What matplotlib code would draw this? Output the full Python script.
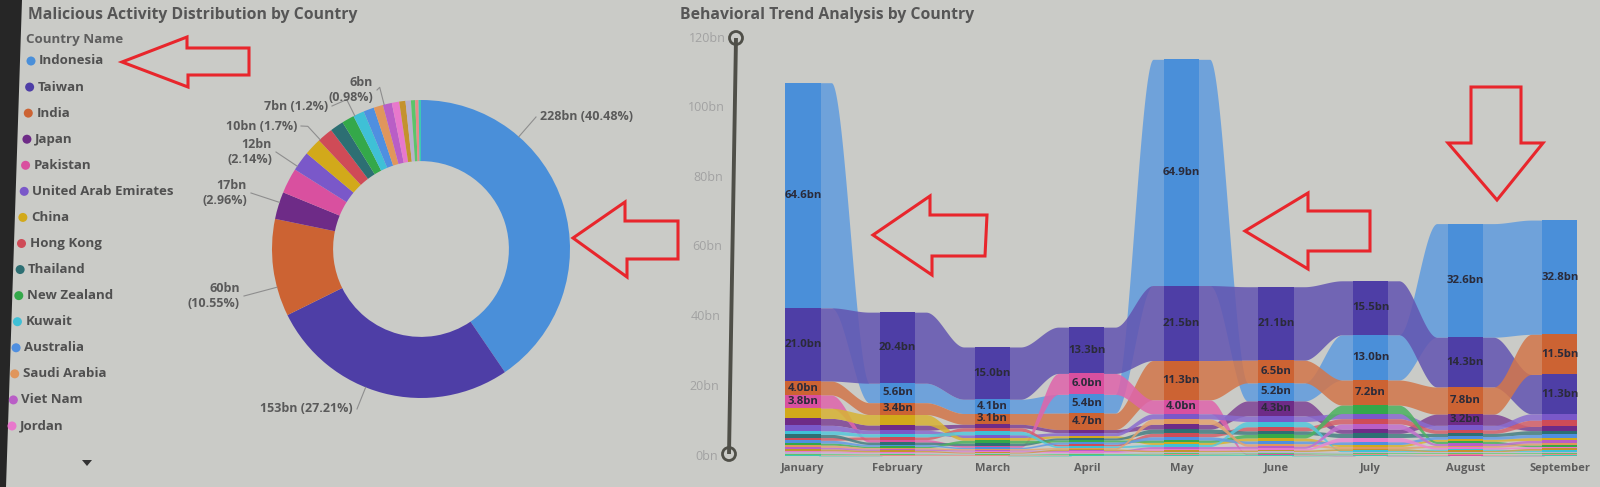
import numpy as np
import matplotlib
matplotlib.use("Agg")
import matplotlib.pyplot as plt
from matplotlib.patches import Polygon, Circle
from matplotlib.colors import to_rgb

plt.rcParams['font.family'] = ['Open Sans', 'DejaVu Sans']

# ---------------- data ----------------
countries = ['Indonesia', 'Taiwan', 'India', 'Japan', 'Pakistan', 'United Arab Emirates',
             'China', 'Hong Kong', 'Thailand', 'New Zealand', 'Kuwait', 'Australia',
             'Saudi Arabia', 'Viet Nam', 'Jordan', 'Other 1', 'Other 2', 'Other 3',
             'Other 4', 'Other 5']
months = ['January', 'February', 'March', 'April', 'May', 'June', 'July', 'August', 'September']

indonesia = [64.64, 5.6, 4.1, 5.4, 64.94, 5.2, 13.0, 32.62, 32.8]
taiwan = [21.03, 20.4, 15.0, 13.3, 21.53, 21.1, 15.5, 14.3, 11.3]
india = [4.0, 3.4, 3.1, 4.7, 11.3, 6.5, 7.2, 7.8, 11.52]
japan = [2.0, 1.5, 1.0, 0.9, 1.4, 4.3, 1.2, 3.2, 1.2]
pakistan = [3.8, 0.7, 0.5, 6.0, 4.0, 0.2, 0.1, 0.1, 0.1]
uae = [1.6, 1.0, 0.8, 0.9, 1.5, 1.6, 1.5, 1.3, 1.85]
china = [2.9, 3.0, 0.8, 0.6, 0.6, 0.9, 0.6, 0.6, 0.8]
hong_kong = [0.8, 0.8, 1.0, 0.5, 1.0, 1.2, 1.5, 1.0, 1.78]
thailand = [0.9, 0.7, 0.7, 0.6, 1.2, 1.0, 1.2, 0.9, 1.1]
new_zealand = [0.6, 0.4, 0.8, 0.6, 0.7, 1.0, 2.4, 0.6, 0.5]
kuwait = [1.0, 0.9, 1.0, 0.5, 0.6, 1.5, 0.4, 0.4, 0.46]
australia = [0.8, 0.5, 0.4, 0.6, 0.9, 0.8, 0.8, 0.8, 0.9]
saudi_arabia = [0.6, 0.4, 0.4, 0.4, 1.5, 0.7, 0.6, 0.5, 0.6]
viet_nam = [0.5, 0.4, 0.3, 0.3, 0.6, 0.6, 1.5, 0.6, 0.72]
jordan = [0.4, 0.3, 0.3, 0.3, 0.5, 0.5, 1.2, 0.5, 0.5]
other_1 = [0.5, 0.4, 0.3, 0.4, 0.41, 0.4, 0.5, 0.4, 0.5]
other_2 = [0.4, 0.3, 0.3, 0.3, 0.4, 0.4, 0.4, 0.4, 0.4]
other_3 = [0.3, 0.3, 0.2, 0.3, 0.3, 0.3, 0.3, 0.3, 0.3]
other_4 = [0.2, 0.2, 0.2, 0.2, 0.3, 0.2, 0.2, 0.3, 0.2]
other_5 = [0.2, 0.1, 0.1, 0.2, 0.2, 0.2, 0.2, 0.1, 0.2]

y_ticks = [0, 20, 40, 60, 80, 100, 120]

colors = ['#4a8fd9', '#4e3ea6', '#cc6333', '#6e2b87', '#d9509f', '#7a58c9',
          '#d2a91a', '#cf4b57', '#2d6f73', '#34a84a', '#3fc0d6', '#4f8fe0',
          '#e0965c', '#b95ec6', '#e878cc', '#c4922e', '#b8b2cc', '#5cc46a',
          '#e88a8a', '#3cc8b4']

series = [indonesia, taiwan, india, japan, pakistan, uae, china, hong_kong, thailand,
          new_zealand, kuwait, australia, saudi_arabia, viet_nam, jordan,
          other_1, other_2, other_3, other_4, other_5]
vals = np.array(series, dtype=float)
totals = vals.sum(axis=1)
grand = totals.sum()

# ---------------- figure ----------------
W, H = 1600, 487
BG = '#cacbc7'
fig = plt.figure(figsize=(W / 100, H / 100), dpi=100)
fig.patch.set_facecolor(BG)

def frac(x, y, w, h):
    return [x / W, 1 - (y + h) / H, w / W, h / H]

def lighten(c, f):
    r = np.array(to_rgb(c))
    return tuple(r + (1 - r) * f)

# ---------------- donut ----------------
cx, cy, R = 421, 249, 149
ax_d = fig.add_axes(frac(cx - R, cy - R, 2 * R, 2 * R))
ax_d.pie(totals, colors=colors, startangle=90, counterclock=False, radius=1,
         wedgeprops=dict(width=0.41, linewidth=0))
ax_d.set_xlim(-1, 1)
ax_d.set_ylim(-1, 1)
ax_d.axis('off')

# ---------------- ribbon chart ----------------
X0PX, DXPX = 803, 94.6
AX_L, AX_R, Y_TOP, Y_BASE = 760, 1590, 38, 456
ax_r = fig.add_axes(frac(AX_L, Y_TOP, AX_R - AX_L, Y_BASE - Y_TOP))
ax_r.set_xlim((AX_L - X0PX) / DXPX, (AX_R - X0PX) / DXPX)
ax_r.set_ylim(0, 120)
ax_r.patch.set_alpha(0)
for sp in ax_r.spines.values():
    sp.set_visible(False)

nS, nM = vals.shape
bottoms = np.zeros_like(vals)
tops = np.zeros_like(vals)
for m in range(nM):
    order = sorted(range(nS), key=lambda s: (vals[s, m], -s))
    acc = 0.0
    for s in order:
        bottoms[s, m] = acc
        acc += vals[s, m]
        tops[s, m] = acc

hw = 0.185
u = np.linspace(0, 1, 140)
a = 0.2
v = np.clip((u - a) / (1 - 2 * a), 0, 1)
ease = v * v * (3 - 2 * v)
for m in range(nM - 1):
    x0, x1 = m + hw - 0.02, m + 1 - hw + 0.02
    xs = x0 + (x1 - x0) * u
    for k in range(nS):
        lo = bottoms[k, m] + (bottoms[k, m + 1] - bottoms[k, m]) * ease
        hi = tops[k, m] + (tops[k, m + 1] - tops[k, m]) * ease
        ax_r.fill_between(xs, lo, hi, color=lighten(colors[k], 0.12), alpha=0.86,
                          lw=0, zorder=1)

for m in range(nM):
    for k in range(nS):
        ax_r.bar(m, vals[k, m], bottom=bottoms[k, m], width=2 * hw, color=colors[k],
                 lw=0, zorder=3, antialiased=False)
        if vals[k, m] >= 3.1:
            ax_r.text(m, bottoms[k, m] + vals[k, m] / 2, f"{vals[k, m]:.1f}bn",
                      ha='center', va='center', fontsize=8.2, fontweight='bold',
                      color='#2b2b3a', zorder=5)

ax_r.set_xticks(range(nM))
ax_r.set_xticklabels(months, fontsize=8, fontweight='bold', color='#5e5e5e')
ax_r.tick_params(axis='x', length=0, pad=5)
ax_r.set_yticks([])

# y "slider" axis labels
ytr = ax_r.get_yaxis_transform()
for t in y_ticks:
    xpx = 718 + (t / 120) * 8
    ax_r.text((xpx - AX_L) / (AX_R - AX_L), t, f"{t}bn", transform=ytr, ha='right',
              va='center', fontsize=9, color='#a2a2a2', clip_on=False)

# ---------------- overlay (pixel coordinates) ----------------
ov = fig.add_axes([0, 0, 1, 1], zorder=10)
ov.set_xlim(0, W)
ov.set_ylim(H, 0)
ov.axis('off')
ov.patch.set_alpha(0)

# dark photo edge
ov.add_patch(Polygon([(0, 0), (22, 0), (6, H), (0, H)], closed=True, color='#262626', lw=0))

# titles
ov.text(28, 15, 'Malicious Activity Distribution by Country', fontsize=11.3, fontweight='bold',
        color='#565656', va='center', ha='left')
ov.text(680, 15, 'Behavioral Trend Analysis by Country', fontsize=11.3, fontweight='bold',
        color='#565656', va='center', ha='left')
ov.text(26, 39, 'Country Name', fontsize=9.6, fontweight='bold', color='#5e5e5e', va='center')

# legend
for i, name in enumerate(countries[:15]):
    y = 61 + i * 26.07
    xm = 31 - (y - 61) * 19 / 365
    ov.add_patch(Circle((xm, y), 4.5, color=colors[i], lw=0))
    ov.text(xm + 8, y, name, fontsize=9.5, fontweight='bold', color='#505050', va='center')
ov.add_patch(Polygon([(82, 460), (92, 460), (87, 466)], closed=True, color='#333333', lw=0))

# donut labels
ends = np.cumsum(totals) / grand * 360
starts = ends - totals / grand * 360
label_pos = {
    'Indonesia': (540, 117, 'left', False),
    'Taiwan': (353, 409, 'right', False),
    'India': (240, 296, 'right', True),
    'Japan': (247, 193, 'right', True),
    'United Arab Emirates': (272, 152, 'right', True),
    'Hong Kong': (297, 126, 'right', False),
    'Kuwait': (328, 106, 'right', False),
    'Viet Nam': (373, 90, 'right', True),
}
for name, (tx, ty, ha, two) in label_pos.items():
    k = countries.index(name)
    pct = f"{totals[k] / grand * 100:.2f}".rstrip('0').rstrip('.')
    sep = '\n' if two else ' '
    txt = f"{totals[k]:.0f}bn{sep}({pct}%)"
    ov.text(tx, ty, txt, ha=ha, va='center', fontsize=9, fontweight='bold',
            color='#5a5a5a', linespacing=1.2)
    ex = tx - 4 if ha == 'left' else tx + 4
    ang = np.degrees(np.arctan2(ex - cx, -(ty - cy))) % 360
    lo, hi = starts[k] + 0.5, ends[k] - 0.5
    ang = min(max(ang, lo), hi)
    th = np.radians(ang)
    p0 = (cx + R * np.sin(th), cy - R * np.cos(th))
    p1 = (cx + 1.12 * R * np.sin(th), cy - 1.12 * R * np.cos(th))
    ov.plot([p0[0], p1[0], ex], [p0[1], p1[1], ty], color='#8e8e8e', lw=0.8)

# slider axis
ov.plot([736, 729], [38, 454], color='#4f4f48', lw=2.8, solid_capstyle='butt')
for (px, py) in [(736, 38), (729, 454)]:
    ov.add_patch(Circle((px, py), 6.5, facecolor=BG, edgecolor='#4f4f48', lw=2))

# red annotation arrows
RED = '#e8262c'
arrows = [
    [(122, 62), (187, 37), (187, 48), (249, 48), (249, 75), (188, 75), (188, 87)],
    [(573, 238), (625, 202), (625, 221), (678, 221), (678, 259), (627, 259), (627, 277)],
    [(873, 235), (930, 196), (930, 215), (987, 215), (985, 256), (932, 256), (932, 275)],
    [(1245, 231), (1308, 193), (1308, 211), (1370, 211), (1370, 251), (1308, 251), (1308, 269)],
    [(1497, 200), (1448, 143), (1471, 143), (1471, 87), (1521, 87), (1521, 143), (1543, 143)],
]
for poly in arrows:
    ov.add_patch(Polygon(poly, closed=True, fill=False, edgecolor=RED, lw=2.2, joinstyle='miter'))

fig.savefig('out.png', dpi=100, facecolor=BG)
